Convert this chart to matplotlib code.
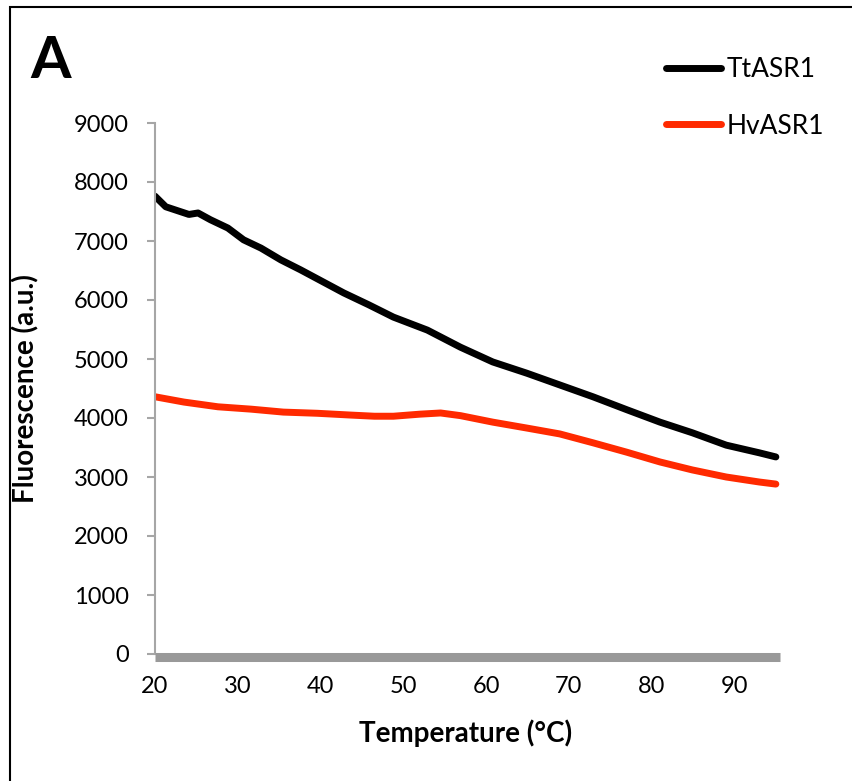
import matplotlib

matplotlib.use("Agg")
import matplotlib.pyplot as plt  # noqa: E402
from matplotlib.patches import Rectangle  # noqa: E402

# Thermal scan, fluorescence vs temperature
temp_tt = [20, 21.3, 24.1, 25.2, 26.7, 28.8, 30.7, 32.8, 35.2, 37.6, 40.4,
           42.8, 45.8, 48.8, 52.9, 56.9, 60.8, 64.9, 68.9, 72.9, 77.0, 81.0,
           84.9, 89.0, 93.0, 95]
fluo_tt = [7760, 7580, 7450, 7475, 7360, 7220, 7020, 6880, 6680, 6510, 6300,
           6120, 5920, 5710, 5490, 5200, 4950, 4760, 4560, 4360, 4140, 3930,
           3750, 3540, 3410, 3340]

temp_hv = [20, 23.5, 27.6, 31.6, 35.5, 39.6, 43.6, 46.5, 48.8, 52.0, 54.5,
           56.9, 60.8, 64.9, 68.9, 72.9, 77.0, 81.0, 84.9, 89.0, 93.0, 95]
fluo_hv = [4360, 4270, 4190, 4150, 4100, 4080, 4050, 4030, 4030, 4065, 4085,
           4040, 3930, 3830, 3730, 3580, 3420, 3255, 3120, 3000, 2915, 2880]

x_ticks = [20, 30, 40, 50, 60, 70, 80, 90]
y_ticks = [0, 1000, 2000, 3000, 4000, 5000, 6000, 7000, 8000, 9000]

RED = "#FF2A00"
AXIS_GREY = "#A6A6A6"
BAND_GREY = "#999999"

plt.rcParams["font.family"] = ["Lato", "DejaVu Sans"]

W, H = 852, 781
fig = plt.figure(figsize=(W / 100, H / 100), dpi=100)
ax = fig.add_axes([155 / W, 1 - 654 / H, 625 / W, 531 / H])

ax.plot(temp_tt, fluo_tt, color="black", lw=5, solid_capstyle="round",
        solid_joinstyle="round", label="TtASR1")
ax.plot(temp_hv, fluo_hv, color=RED, lw=5, solid_capstyle="round",
        solid_joinstyle="round", label="HvASR1")

ax.set_xlim(20, 95.5)
ax.set_ylim(0, 9000)
ax.set_xticks(x_ticks)
ax.set_yticks(y_ticks)

ax.spines["top"].set_visible(False)
ax.spines["right"].set_visible(False)
ax.spines["left"].set_color(AXIS_GREY)
ax.spines["left"].set_linewidth(1.5)
# thick grey floor under the zero line
ax.spines["bottom"].set_color(BAND_GREY)
ax.spines["bottom"].set_linewidth(6.5)
ax.spines["bottom"].set_position(("outward", 2.5))
ax.spines["bottom"].set_capstyle("butt")

ax.tick_params(axis="x", length=0, pad=13, labelsize=17)
ax.tick_params(axis="y", length=6, width=1.5, color=AXIS_GREY, pad=13,
               labelsize=17)

ax.set_xlabel("Temperature (°C)", fontsize=20, fontweight="bold")
ax.xaxis.set_label_coords(0.497, -0.124)
ax.set_ylabel("Fluorescence (a.u.)", fontsize=20, fontweight="bold")
ax.yaxis.set_label_coords(-0.185, 0.5)

fig.legend(loc="upper left", bbox_to_anchor=(666 / W, 1 - 57 / H),
           frameon=False, fontsize=19, handlelength=2.1, handletextpad=0.2,
           labelspacing=1.2, borderpad=0, borderaxespad=0)

fig.text(30 / W, 1 - 62 / H, "A", fontsize=42, fontweight="bold",
         ha="left", va="center")

# panel frame (right and bottom edges fall outside the canvas)
fig.add_artist(Rectangle((10 / W, -1), 2, 2 - 7 / H, transform=fig.transFigure,
                         fill=False, edgecolor="black", lw=1.5, clip_on=False))

fig.savefig("out.png", dpi=100, facecolor="white")
